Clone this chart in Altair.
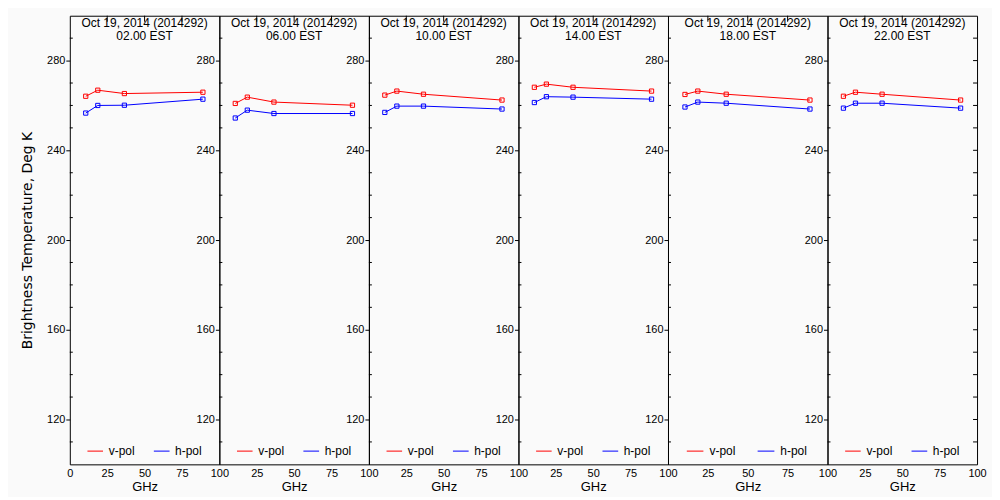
import altair as alt
import pandas as pd

# ---- data ----
FREQS = [10.65, 18.7, 36.5, 89.0]
DATE_LABEL = "Oct 19, 2014 (2014292)"
TIMES = ["02.00 EST", "06.00 EST", "10.00 EST", "14.00 EST", "18.00 EST", "22.00 EST"]
VPOL = [
    [264.1, 266.8, 265.3, 265.9],
    [260.9, 263.7, 261.5, 260.1],
    [264.6, 266.4, 265.0, 262.4],
    [268.1, 269.5, 268.1, 266.4],
    [264.9, 266.4, 265.0, 262.4],
    [264.1, 265.9, 265.0, 262.4],
]
HPOL = [
    [256.6, 260.0, 260.1, 262.8],
    [254.4, 257.9, 256.4, 256.4],
    [256.9, 259.7, 259.7, 258.4],
    [261.3, 263.9, 263.7, 262.8],
    [259.3, 261.5, 261.0, 258.4],
    [258.8, 261.0, 261.0, 258.8],
]
SERIES = ["v-pol", "h-pol"]
COLORS = ["#ff0000", "#0000ff"]
Y_MAJOR = [120, 160, 200, 240, 280]
Y_ALL = list(range(110, 300, 10))
Y_MINOR = [v for v in Y_ALL if v not in Y_MAJOR]
X_TOP_TICKS = [25, 50, 75]

# layout constants (not data)
PANEL_WIDTHS = [150, 150, 150, 150, 160, 150]
PANEL_HEIGHT = 450
LEG_Y = 105.9
LEG_LINES = [(11.8, 22.2), (56.2, 66.7)]
LEG_TEXT_X = [26.0, 70.4]

FONT = "Liberation Sans"


def panel(i, w):
    rows = []
    for s, vals in zip(SERIES, [VPOL[i], HPOL[i]]):
        for f, v in zip(FREQS, vals):
            rows.append({"ghz": f, "tb": v, "pol": s})
    df = pd.DataFrame(rows)

    x_axis = alt.Axis(
        values=[0, 25, 50, 75, 100] if i == 0 else [25, 50, 75, 100],
        title="GHz", ticks=False, domain=False, grid=False,
        labelPadding=3, labelFlush=False, labelOverlap=False,
        labelFontSize=11, titleFontSize=13, titlePadding=2,
    )
    ykw = dict(values=Y_MAJOR, tickSize=4, labelPadding=1, domain=False,
               grid=False, labelFontSize=11)
    if i == 0:
        ykw.update(title="Brightness Temperature, Deg K", titlePadding=12,
                   titleFont="DejaVu Sans", titleFontSize=14)
    else:
        ykw.update(title="")
    y_axis = alt.Axis(**ykw)

    x_enc = alt.X("ghz:Q", scale=alt.Scale(domain=[0, 100], nice=False, zero=False), axis=x_axis)
    y_enc = alt.Y("tb:Q", scale=alt.Scale(domain=[100, 300], nice=False, zero=False), axis=y_axis)
    c_enc = alt.Color("pol:N", scale=alt.Scale(domain=SERIES, range=COLORS), legend=None)

    base = alt.Chart(df)
    lines = base.mark_line(strokeWidth=1).encode(x=x_enc, y=y_enc, color=c_enc)
    pts = base.mark_point(shape="square", filled=False, size=18, strokeWidth=1, opacity=1).encode(
        x=x_enc, y=y_enc, color=c_enc)

    minor = alt.Chart(pd.DataFrame({"tb": Y_MINOR})).mark_rule(color="black", strokeWidth=1).encode(
        y=y_enc, x=alt.value(0), x2=alt.value(3))
    top = alt.Chart(pd.DataFrame({"ghz": X_TOP_TICKS})).mark_rule(color="black", strokeWidth=1).encode(
        x=x_enc, y=alt.value(0), y2=alt.value(6))

    title = alt.Chart(pd.DataFrame({"t": [DATE_LABEL + "\n" + TIMES[i]]})).mark_text(
        font=FONT, fontSize=12, color="black", baseline="alphabetic", align="center",
        lineBreak="\n", lineHeight=13).encode(
        text="t:N", x=alt.value(w / 2), y=alt.value(11.5))

    leg_df = pd.DataFrame({
        "ghz": [a for a, b in LEG_LINES], "ghz2": [b for a, b in LEG_LINES],
        "tb": [LEG_Y, LEG_Y], "pol": SERIES})
    leg_rules = alt.Chart(leg_df).mark_rule(strokeWidth=1).encode(
        x=x_enc, x2="ghz2:Q", y=y_enc, color=c_enc)
    leg_txt_df = pd.DataFrame({"ghz": LEG_TEXT_X, "tb": [LEG_Y, LEG_Y], "lab": SERIES})
    leg_txt = alt.Chart(leg_txt_df).mark_text(
        font=FONT, fontSize=12, color="black", align="left", baseline="middle").encode(
        x=x_enc, y=y_enc, text="lab:N")

    layers = [lines, pts, minor, top, title, leg_rules, leg_txt]
    if i == len(PANEL_WIDTHS) - 1:
        right = alt.Chart(pd.DataFrame({"tb": Y_ALL})).mark_rule(color="black", strokeWidth=1).encode(
            y=y_enc, x=alt.value(w - 4), x2=alt.value(w))
        layers.append(right)

    return alt.layer(*layers).properties(width=w, height=PANEL_HEIGHT)


panels = [panel(i, w) for i, w in enumerate(PANEL_WIDTHS)]

chart = alt.hconcat(*panels, spacing=0, bounds="flush").properties(
    background="#fafafa",
    padding={"left": 12, "top": 6, "right": 5, "bottom": 2},
).configure_axis(
    labelFont=FONT, titleFont=FONT, labelColor="black", titleColor="black",
    tickColor="black", titleFontWeight="normal",
).configure_view(stroke="black", strokeWidth=1)

chart.save("out.html", embed_options={"renderer": "svg", "actions": False})
